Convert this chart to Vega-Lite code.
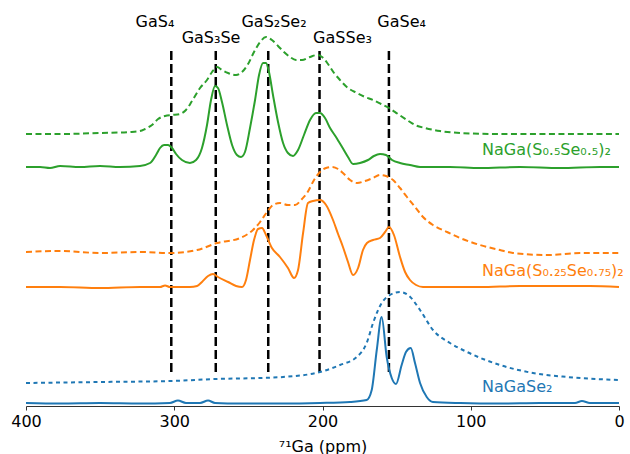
{
  "$schema": "https://vega.github.io/schema/vega-lite/v6.json",
  "width": 593,
  "height": 406,
  "autosize": {"type": "none"},
  "padding": {"top": 0, "left": 26, "right": 11, "bottom": 48},
  "background": "white",
  "config": {"view": {"stroke": null}, "font": "DejaVu Sans"},
  "datasets": {
    "spectra": [
      {"series": "NaGa(S0.5Se0.5)2", "spectrum": "MAS", "ppm": 400, "intensity": 239},
      {"series": "NaGa(S0.5Se0.5)2", "spectrum": "MAS", "ppm": 390.5, "intensity": 239},
      {"series": "NaGa(S0.5Se0.5)2", "spectrum": "MAS", "ppm": 383.8, "intensity": 238},
      {"series": "NaGa(S0.5Se0.5)2", "spectrum": "MAS", "ppm": 377, "intensity": 240},
      {"series": "NaGa(S0.5Se0.5)2", "spectrum": "MAS", "ppm": 363.6, "intensity": 239},
      {"series": "NaGa(S0.5Se0.5)2", "spectrum": "MAS", "ppm": 350.1, "intensity": 240},
      {"series": "NaGa(S0.5Se0.5)2", "spectrum": "MAS", "ppm": 336.6, "intensity": 239},
      {"series": "NaGa(S0.5Se0.5)2", "spectrum": "MAS", "ppm": 323.1, "intensity": 240},
      {"series": "NaGa(S0.5Se0.5)2", "spectrum": "MAS", "ppm": 316.3, "intensity": 243},
      {"series": "NaGa(S0.5Se0.5)2", "spectrum": "MAS", "ppm": 312.3, "intensity": 251},
      {"series": "NaGa(S0.5Se0.5)2", "spectrum": "MAS", "ppm": 309.6, "intensity": 258},
      {"series": "NaGa(S0.5Se0.5)2", "spectrum": "MAS", "ppm": 306.9, "intensity": 261},
      {"series": "NaGa(S0.5Se0.5)2", "spectrum": "MAS", "ppm": 304.2, "intensity": 261},
      {"series": "NaGa(S0.5Se0.5)2", "spectrum": "MAS", "ppm": 301.5, "intensity": 258},
      {"series": "NaGa(S0.5Se0.5)2", "spectrum": "MAS", "ppm": 298.8, "intensity": 252},
      {"series": "NaGa(S0.5Se0.5)2", "spectrum": "MAS", "ppm": 294.8, "intensity": 246},
      {"series": "NaGa(S0.5Se0.5)2", "spectrum": "MAS", "ppm": 289.4, "intensity": 243},
      {"series": "NaGa(S0.5Se0.5)2", "spectrum": "MAS", "ppm": 285.3, "intensity": 246},
      {"series": "NaGa(S0.5Se0.5)2", "spectrum": "MAS", "ppm": 281.3, "intensity": 258},
      {"series": "NaGa(S0.5Se0.5)2", "spectrum": "MAS", "ppm": 277.9, "intensity": 281},
      {"series": "NaGa(S0.5Se0.5)2", "spectrum": "MAS", "ppm": 275.2, "intensity": 306},
      {"series": "NaGa(S0.5Se0.5)2", "spectrum": "MAS", "ppm": 272.5, "intensity": 320},
      {"series": "NaGa(S0.5Se0.5)2", "spectrum": "MAS", "ppm": 270.5, "intensity": 318},
      {"series": "NaGa(S0.5Se0.5)2", "spectrum": "MAS", "ppm": 267.8, "intensity": 304},
      {"series": "NaGa(S0.5Se0.5)2", "spectrum": "MAS", "ppm": 264.4, "intensity": 281},
      {"series": "NaGa(S0.5Se0.5)2", "spectrum": "MAS", "ppm": 261.0, "intensity": 261},
      {"series": "NaGa(S0.5Se0.5)2", "spectrum": "MAS", "ppm": 257.7, "intensity": 251},
      {"series": "NaGa(S0.5Se0.5)2", "spectrum": "MAS", "ppm": 255.0, "intensity": 249},
      {"series": "NaGa(S0.5Se0.5)2", "spectrum": "MAS", "ppm": 252.3, "intensity": 254},
      {"series": "NaGa(S0.5Se0.5)2", "spectrum": "MAS", "ppm": 248.9, "intensity": 278},
      {"series": "NaGa(S0.5Se0.5)2", "spectrum": "MAS", "ppm": 245.5, "intensity": 306},
      {"series": "NaGa(S0.5Se0.5)2", "spectrum": "MAS", "ppm": 242.8, "intensity": 331},
      {"series": "NaGa(S0.5Se0.5)2", "spectrum": "MAS", "ppm": 240.1, "intensity": 343},
      {"series": "NaGa(S0.5Se0.5)2", "spectrum": "MAS", "ppm": 238.1, "intensity": 343},
      {"series": "NaGa(S0.5Se0.5)2", "spectrum": "MAS", "ppm": 236.1, "intensity": 334},
      {"series": "NaGa(S0.5Se0.5)2", "spectrum": "MAS", "ppm": 233.4, "intensity": 311},
      {"series": "NaGa(S0.5Se0.5)2", "spectrum": "MAS", "ppm": 230.0, "intensity": 284},
      {"series": "NaGa(S0.5Se0.5)2", "spectrum": "MAS", "ppm": 226.6, "intensity": 263},
      {"series": "NaGa(S0.5Se0.5)2", "spectrum": "MAS", "ppm": 223.3, "intensity": 253},
      {"series": "NaGa(S0.5Se0.5)2", "spectrum": "MAS", "ppm": 219.9, "intensity": 250},
      {"series": "NaGa(S0.5Se0.5)2", "spectrum": "MAS", "ppm": 216.5, "intensity": 256},
      {"series": "NaGa(S0.5Se0.5)2", "spectrum": "MAS", "ppm": 212.5, "intensity": 271},
      {"series": "NaGa(S0.5Se0.5)2", "spectrum": "MAS", "ppm": 208.4, "intensity": 286},
      {"series": "NaGa(S0.5Se0.5)2", "spectrum": "MAS", "ppm": 204.4, "intensity": 293},
      {"series": "NaGa(S0.5Se0.5)2", "spectrum": "MAS", "ppm": 201.7, "intensity": 293},
      {"series": "NaGa(S0.5Se0.5)2", "spectrum": "MAS", "ppm": 198.3, "intensity": 288},
      {"series": "NaGa(S0.5Se0.5)2", "spectrum": "MAS", "ppm": 194.9, "intensity": 278},
      {"series": "NaGa(S0.5Se0.5)2", "spectrum": "MAS", "ppm": 190.9, "intensity": 269},
      {"series": "NaGa(S0.5Se0.5)2", "spectrum": "MAS", "ppm": 186.8, "intensity": 259},
      {"series": "NaGa(S0.5Se0.5)2", "spectrum": "MAS", "ppm": 182.8, "intensity": 249},
      {"series": "NaGa(S0.5Se0.5)2", "spectrum": "MAS", "ppm": 179.4, "intensity": 242},
      {"series": "NaGa(S0.5Se0.5)2", "spectrum": "MAS", "ppm": 174.7, "intensity": 243},
      {"series": "NaGa(S0.5Se0.5)2", "spectrum": "MAS", "ppm": 169.3, "intensity": 246},
      {"series": "NaGa(S0.5Se0.5)2", "spectrum": "MAS", "ppm": 165.3, "intensity": 250},
      {"series": "NaGa(S0.5Se0.5)2", "spectrum": "MAS", "ppm": 161.2, "intensity": 252},
      {"series": "NaGa(S0.5Se0.5)2", "spectrum": "MAS", "ppm": 157.2, "intensity": 251},
      {"series": "NaGa(S0.5Se0.5)2", "spectrum": "MAS", "ppm": 153.1, "intensity": 246},
      {"series": "NaGa(S0.5Se0.5)2", "spectrum": "MAS", "ppm": 147.7, "intensity": 243},
      {"series": "NaGa(S0.5Se0.5)2", "spectrum": "MAS", "ppm": 141.0, "intensity": 241},
      {"series": "NaGa(S0.5Se0.5)2", "spectrum": "MAS", "ppm": 134.2, "intensity": 239},
      {"series": "NaGa(S0.5Se0.5)2", "spectrum": "MAS", "ppm": 114.0, "intensity": 239},
      {"series": "NaGa(S0.5Se0.5)2", "spectrum": "MAS", "ppm": 93.8, "intensity": 238},
      {"series": "NaGa(S0.5Se0.5)2", "spectrum": "MAS", "ppm": 66.8, "intensity": 239},
      {"series": "NaGa(S0.5Se0.5)2", "spectrum": "MAS", "ppm": 39.8, "intensity": 238},
      {"series": "NaGa(S0.5Se0.5)2", "spectrum": "MAS", "ppm": 12.8, "intensity": 239},
      {"series": "NaGa(S0.5Se0.5)2", "spectrum": "MAS", "ppm": 0, "intensity": 239},

      {"series": "NaGa(S0.5Se0.5)2", "spectrum": "static", "ppm": 400, "intensity": 272},
      {"series": "NaGa(S0.5Se0.5)2", "spectrum": "static", "ppm": 377, "intensity": 272},
      {"series": "NaGa(S0.5Se0.5)2", "spectrum": "static", "ppm": 350.1, "intensity": 273},
      {"series": "NaGa(S0.5Se0.5)2", "spectrum": "static", "ppm": 329.8, "intensity": 274},
      {"series": "NaGa(S0.5Se0.5)2", "spectrum": "static", "ppm": 323.1, "intensity": 275},
      {"series": "NaGa(S0.5Se0.5)2", "spectrum": "static", "ppm": 319.7, "intensity": 277},
      {"series": "NaGa(S0.5Se0.5)2", "spectrum": "static", "ppm": 315.0, "intensity": 281},
      {"series": "NaGa(S0.5Se0.5)2", "spectrum": "static", "ppm": 310.9, "intensity": 287},
      {"series": "NaGa(S0.5Se0.5)2", "spectrum": "static", "ppm": 306.2, "intensity": 290},
      {"series": "NaGa(S0.5Se0.5)2", "spectrum": "static", "ppm": 301.5, "intensity": 291},
      {"series": "NaGa(S0.5Se0.5)2", "spectrum": "static", "ppm": 296.1, "intensity": 292},
      {"series": "NaGa(S0.5Se0.5)2", "spectrum": "static", "ppm": 292.1, "intensity": 296},
      {"series": "NaGa(S0.5Se0.5)2", "spectrum": "static", "ppm": 288.0, "intensity": 305},
      {"series": "NaGa(S0.5Se0.5)2", "spectrum": "static", "ppm": 282.6, "intensity": 318},
      {"series": "NaGa(S0.5Se0.5)2", "spectrum": "static", "ppm": 277.9, "intensity": 326},
      {"series": "NaGa(S0.5Se0.5)2", "spectrum": "static", "ppm": 274.5, "intensity": 334},
      {"series": "NaGa(S0.5Se0.5)2", "spectrum": "static", "ppm": 271.1, "intensity": 339},
      {"series": "NaGa(S0.5Se0.5)2", "spectrum": "static", "ppm": 267.8, "intensity": 336},
      {"series": "NaGa(S0.5Se0.5)2", "spectrum": "static", "ppm": 263.7, "intensity": 333},
      {"series": "NaGa(S0.5Se0.5)2", "spectrum": "static", "ppm": 258.3, "intensity": 331},
      {"series": "NaGa(S0.5Se0.5)2", "spectrum": "static", "ppm": 254.3, "intensity": 334},
      {"series": "NaGa(S0.5Se0.5)2", "spectrum": "static", "ppm": 250.2, "intensity": 342},
      {"series": "NaGa(S0.5Se0.5)2", "spectrum": "static", "ppm": 246.2, "intensity": 354},
      {"series": "NaGa(S0.5Se0.5)2", "spectrum": "static", "ppm": 242.1, "intensity": 364},
      {"series": "NaGa(S0.5Se0.5)2", "spectrum": "static", "ppm": 238.1, "intensity": 369},
      {"series": "NaGa(S0.5Se0.5)2", "spectrum": "static", "ppm": 234.1, "intensity": 366},
      {"series": "NaGa(S0.5Se0.5)2", "spectrum": "static", "ppm": 230.0, "intensity": 360},
      {"series": "NaGa(S0.5Se0.5)2", "spectrum": "static", "ppm": 226.0, "intensity": 354},
      {"series": "NaGa(S0.5Se0.5)2", "spectrum": "static", "ppm": 221.9, "intensity": 349},
      {"series": "NaGa(S0.5Se0.5)2", "spectrum": "static", "ppm": 217.9, "intensity": 346},
      {"series": "NaGa(S0.5Se0.5)2", "spectrum": "static", "ppm": 213.8, "intensity": 346},
      {"series": "NaGa(S0.5Se0.5)2", "spectrum": "static", "ppm": 208.4, "intensity": 349},
      {"series": "NaGa(S0.5Se0.5)2", "spectrum": "static", "ppm": 203.7, "intensity": 351},
      {"series": "NaGa(S0.5Se0.5)2", "spectrum": "static", "ppm": 200.3, "intensity": 349},
      {"series": "NaGa(S0.5Se0.5)2", "spectrum": "static", "ppm": 196.3, "intensity": 342},
      {"series": "NaGa(S0.5Se0.5)2", "spectrum": "static", "ppm": 192.2, "intensity": 333},
      {"series": "NaGa(S0.5Se0.5)2", "spectrum": "static", "ppm": 188.2, "intensity": 326},
      {"series": "NaGa(S0.5Se0.5)2", "spectrum": "static", "ppm": 182.8, "intensity": 318},
      {"series": "NaGa(S0.5Se0.5)2", "spectrum": "static", "ppm": 176.7, "intensity": 313},
      {"series": "NaGa(S0.5Se0.5)2", "spectrum": "static", "ppm": 171.3, "intensity": 309},
      {"series": "NaGa(S0.5Se0.5)2", "spectrum": "static", "ppm": 165.9, "intensity": 306},
      {"series": "NaGa(S0.5Se0.5)2", "spectrum": "static", "ppm": 160.5, "intensity": 302},
      {"series": "NaGa(S0.5Se0.5)2", "spectrum": "static", "ppm": 155.1, "intensity": 298},
      {"series": "NaGa(S0.5Se0.5)2", "spectrum": "static", "ppm": 149.1, "intensity": 292},
      {"series": "NaGa(S0.5Se0.5)2", "spectrum": "static", "ppm": 143.0, "intensity": 286},
      {"series": "NaGa(S0.5Se0.5)2", "spectrum": "static", "ppm": 137.6, "intensity": 281},
      {"series": "NaGa(S0.5Se0.5)2", "spectrum": "static", "ppm": 130.9, "intensity": 278},
      {"series": "NaGa(S0.5Se0.5)2", "spectrum": "static", "ppm": 120.7, "intensity": 275},
      {"series": "NaGa(S0.5Se0.5)2", "spectrum": "static", "ppm": 107.2, "intensity": 273},
      {"series": "NaGa(S0.5Se0.5)2", "spectrum": "static", "ppm": 80.3, "intensity": 272},
      {"series": "NaGa(S0.5Se0.5)2", "spectrum": "static", "ppm": 53.3, "intensity": 272},
      {"series": "NaGa(S0.5Se0.5)2", "spectrum": "static", "ppm": 26.3, "intensity": 272},
      {"series": "NaGa(S0.5Se0.5)2", "spectrum": "static", "ppm": 0, "intensity": 272},

      {"series": "NaGa(S0.25Se0.75)2", "spectrum": "MAS", "ppm": 400, "intensity": 119},
      {"series": "NaGa(S0.25Se0.75)2", "spectrum": "MAS", "ppm": 377, "intensity": 119},
      {"series": "NaGa(S0.25Se0.75)2", "spectrum": "MAS", "ppm": 350.1, "intensity": 118},
      {"series": "NaGa(S0.25Se0.75)2", "spectrum": "MAS", "ppm": 323.1, "intensity": 119},
      {"series": "NaGa(S0.25Se0.75)2", "spectrum": "MAS", "ppm": 309.6, "intensity": 119},
      {"series": "NaGa(S0.25Se0.75)2", "spectrum": "MAS", "ppm": 306.2, "intensity": 120.5},
      {"series": "NaGa(S0.25Se0.75)2", "spectrum": "MAS", "ppm": 302.9, "intensity": 119},
      {"series": "NaGa(S0.25Se0.75)2", "spectrum": "MAS", "ppm": 289.4, "intensity": 119},
      {"series": "NaGa(S0.25Se0.75)2", "spectrum": "MAS", "ppm": 284.6, "intensity": 120},
      {"series": "NaGa(S0.25Se0.75)2", "spectrum": "MAS", "ppm": 281.3, "intensity": 124},
      {"series": "NaGa(S0.25Se0.75)2", "spectrum": "MAS", "ppm": 277.2, "intensity": 130},
      {"series": "NaGa(S0.25Se0.75)2", "spectrum": "MAS", "ppm": 273.8, "intensity": 132},
      {"series": "NaGa(S0.25Se0.75)2", "spectrum": "MAS", "ppm": 270.5, "intensity": 129},
      {"series": "NaGa(S0.25Se0.75)2", "spectrum": "MAS", "ppm": 263.7, "intensity": 124},
      {"series": "NaGa(S0.25Se0.75)2", "spectrum": "MAS", "ppm": 258.3, "intensity": 120},
      {"series": "NaGa(S0.25Se0.75)2", "spectrum": "MAS", "ppm": 254.3, "intensity": 119},
      {"series": "NaGa(S0.25Se0.75)2", "spectrum": "MAS", "ppm": 251.6, "intensity": 126},
      {"series": "NaGa(S0.25Se0.75)2", "spectrum": "MAS", "ppm": 248.9, "intensity": 146},
      {"series": "NaGa(S0.25Se0.75)2", "spectrum": "MAS", "ppm": 246.2, "intensity": 166},
      {"series": "NaGa(S0.25Se0.75)2", "spectrum": "MAS", "ppm": 243.5, "intensity": 177},
      {"series": "NaGa(S0.25Se0.75)2", "spectrum": "MAS", "ppm": 240.8, "intensity": 178},
      {"series": "NaGa(S0.25Se0.75)2", "spectrum": "MAS", "ppm": 238.1, "intensity": 171},
      {"series": "NaGa(S0.25Se0.75)2", "spectrum": "MAS", "ppm": 234.1, "intensity": 158},
      {"series": "NaGa(S0.25Se0.75)2", "spectrum": "MAS", "ppm": 228.7, "intensity": 149},
      {"series": "NaGa(S0.25Se0.75)2", "spectrum": "MAS", "ppm": 223.3, "intensity": 138},
      {"series": "NaGa(S0.25Se0.75)2", "spectrum": "MAS", "ppm": 219.2, "intensity": 128},
      {"series": "NaGa(S0.25Se0.75)2", "spectrum": "MAS", "ppm": 216.5, "intensity": 136},
      {"series": "NaGa(S0.25Se0.75)2", "spectrum": "MAS", "ppm": 213.1, "intensity": 173},
      {"series": "NaGa(S0.25Se0.75)2", "spectrum": "MAS", "ppm": 209.8, "intensity": 203},
      {"series": "NaGa(S0.25Se0.75)2", "spectrum": "MAS", "ppm": 206.4, "intensity": 205},
      {"series": "NaGa(S0.25Se0.75)2", "spectrum": "MAS", "ppm": 201.7, "intensity": 206},
      {"series": "NaGa(S0.25Se0.75)2", "spectrum": "MAS", "ppm": 197.6, "intensity": 201},
      {"series": "NaGa(S0.25Se0.75)2", "spectrum": "MAS", "ppm": 192.9, "intensity": 186},
      {"series": "NaGa(S0.25Se0.75)2", "spectrum": "MAS", "ppm": 189.5, "intensity": 172},
      {"series": "NaGa(S0.25Se0.75)2", "spectrum": "MAS", "ppm": 186.2, "intensity": 159},
      {"series": "NaGa(S0.25Se0.75)2", "spectrum": "MAS", "ppm": 182.8, "intensity": 144},
      {"series": "NaGa(S0.25Se0.75)2", "spectrum": "MAS", "ppm": 179.4, "intensity": 131},
      {"series": "NaGa(S0.25Se0.75)2", "spectrum": "MAS", "ppm": 176.0, "intensity": 138},
      {"series": "NaGa(S0.25Se0.75)2", "spectrum": "MAS", "ppm": 172.7, "intensity": 156},
      {"series": "NaGa(S0.25Se0.75)2", "spectrum": "MAS", "ppm": 170.0, "intensity": 163},
      {"series": "NaGa(S0.25Se0.75)2", "spectrum": "MAS", "ppm": 165.9, "intensity": 166},
      {"series": "NaGa(S0.25Se0.75)2", "spectrum": "MAS", "ppm": 161.2, "intensity": 168},
      {"series": "NaGa(S0.25Se0.75)2", "spectrum": "MAS", "ppm": 157.8, "intensity": 174},
      {"series": "NaGa(S0.25Se0.75)2", "spectrum": "MAS", "ppm": 155.1, "intensity": 179},
      {"series": "NaGa(S0.25Se0.75)2", "spectrum": "MAS", "ppm": 151.8, "intensity": 171},
      {"series": "NaGa(S0.25Se0.75)2", "spectrum": "MAS", "ppm": 147.7, "intensity": 149},
      {"series": "NaGa(S0.25Se0.75)2", "spectrum": "MAS", "ppm": 144.3, "intensity": 134},
      {"series": "NaGa(S0.25Se0.75)2", "spectrum": "MAS", "ppm": 141.0, "intensity": 126},
      {"series": "NaGa(S0.25Se0.75)2", "spectrum": "MAS", "ppm": 136.9, "intensity": 121},
      {"series": "NaGa(S0.25Se0.75)2", "spectrum": "MAS", "ppm": 132.2, "intensity": 119},
      {"series": "NaGa(S0.25Se0.75)2", "spectrum": "MAS", "ppm": 120.7, "intensity": 119},
      {"series": "NaGa(S0.25Se0.75)2", "spectrum": "MAS", "ppm": 93.8, "intensity": 119},
      {"series": "NaGa(S0.25Se0.75)2", "spectrum": "MAS", "ppm": 66.8, "intensity": 120},
      {"series": "NaGa(S0.25Se0.75)2", "spectrum": "MAS", "ppm": 39.8, "intensity": 120},
      {"series": "NaGa(S0.25Se0.75)2", "spectrum": "MAS", "ppm": 19.6, "intensity": 120},
      {"series": "NaGa(S0.25Se0.75)2", "spectrum": "MAS", "ppm": 0, "intensity": 119},

      {"series": "NaGa(S0.25Se0.75)2", "spectrum": "static", "ppm": 400, "intensity": 154},
      {"series": "NaGa(S0.25Se0.75)2", "spectrum": "static", "ppm": 377, "intensity": 155},
      {"series": "NaGa(S0.25Se0.75)2", "spectrum": "static", "ppm": 350.1, "intensity": 153},
      {"series": "NaGa(S0.25Se0.75)2", "spectrum": "static", "ppm": 323.1, "intensity": 154},
      {"series": "NaGa(S0.25Se0.75)2", "spectrum": "static", "ppm": 302.9, "intensity": 153},
      {"series": "NaGa(S0.25Se0.75)2", "spectrum": "static", "ppm": 284.6, "intensity": 156},
      {"series": "NaGa(S0.25Se0.75)2", "spectrum": "static", "ppm": 271.1, "intensity": 163},
      {"series": "NaGa(S0.25Se0.75)2", "spectrum": "static", "ppm": 255.6, "intensity": 168},
      {"series": "NaGa(S0.25Se0.75)2", "spectrum": "static", "ppm": 246.9, "intensity": 176},
      {"series": "NaGa(S0.25Se0.75)2", "spectrum": "static", "ppm": 242.1, "intensity": 184},
      {"series": "NaGa(S0.25Se0.75)2", "spectrum": "static", "ppm": 237.4, "intensity": 194},
      {"series": "NaGa(S0.25Se0.75)2", "spectrum": "static", "ppm": 233.4, "intensity": 201},
      {"series": "NaGa(S0.25Se0.75)2", "spectrum": "static", "ppm": 228.7, "intensity": 203},
      {"series": "NaGa(S0.25Se0.75)2", "spectrum": "static", "ppm": 223.3, "intensity": 201},
      {"series": "NaGa(S0.25Se0.75)2", "spectrum": "static", "ppm": 218.5, "intensity": 201},
      {"series": "NaGa(S0.25Se0.75)2", "spectrum": "static", "ppm": 213.8, "intensity": 207},
      {"series": "NaGa(S0.25Se0.75)2", "spectrum": "static", "ppm": 210.4, "intensity": 213},
      {"series": "NaGa(S0.25Se0.75)2", "spectrum": "static", "ppm": 205.7, "intensity": 226},
      {"series": "NaGa(S0.25Se0.75)2", "spectrum": "static", "ppm": 201.7, "intensity": 234},
      {"series": "NaGa(S0.25Se0.75)2", "spectrum": "static", "ppm": 197.6, "intensity": 238},
      {"series": "NaGa(S0.25Se0.75)2", "spectrum": "static", "ppm": 193.6, "intensity": 239},
      {"series": "NaGa(S0.25Se0.75)2", "spectrum": "static", "ppm": 189.5, "intensity": 237},
      {"series": "NaGa(S0.25Se0.75)2", "spectrum": "static", "ppm": 186.2, "intensity": 233},
      {"series": "NaGa(S0.25Se0.75)2", "spectrum": "static", "ppm": 181.4, "intensity": 226},
      {"series": "NaGa(S0.25Se0.75)2", "spectrum": "static", "ppm": 176.7, "intensity": 223},
      {"series": "NaGa(S0.25Se0.75)2", "spectrum": "static", "ppm": 171.3, "intensity": 225},
      {"series": "NaGa(S0.25Se0.75)2", "spectrum": "static", "ppm": 165.9, "intensity": 228},
      {"series": "NaGa(S0.25Se0.75)2", "spectrum": "static", "ppm": 161.2, "intensity": 231},
      {"series": "NaGa(S0.25Se0.75)2", "spectrum": "static", "ppm": 157.2, "intensity": 230},
      {"series": "NaGa(S0.25Se0.75)2", "spectrum": "static", "ppm": 152.4, "intensity": 226},
      {"series": "NaGa(S0.25Se0.75)2", "spectrum": "static", "ppm": 147.7, "intensity": 218},
      {"series": "NaGa(S0.25Se0.75)2", "spectrum": "static", "ppm": 143.0, "intensity": 209},
      {"series": "NaGa(S0.25Se0.75)2", "spectrum": "static", "ppm": 137.6, "intensity": 199},
      {"series": "NaGa(S0.25Se0.75)2", "spectrum": "static", "ppm": 132.2, "intensity": 189},
      {"series": "NaGa(S0.25Se0.75)2", "spectrum": "static", "ppm": 125.5, "intensity": 181},
      {"series": "NaGa(S0.25Se0.75)2", "spectrum": "static", "ppm": 116.0, "intensity": 174},
      {"series": "NaGa(S0.25Se0.75)2", "spectrum": "static", "ppm": 107.2, "intensity": 168},
      {"series": "NaGa(S0.25Se0.75)2", "spectrum": "static", "ppm": 93.8, "intensity": 161},
      {"series": "NaGa(S0.25Se0.75)2", "spectrum": "static", "ppm": 80.3, "intensity": 156},
      {"series": "NaGa(S0.25Se0.75)2", "spectrum": "static", "ppm": 71.5, "intensity": 153},
      {"series": "NaGa(S0.25Se0.75)2", "spectrum": "static", "ppm": 48.6, "intensity": 151},
      {"series": "NaGa(S0.25Se0.75)2", "spectrum": "static", "ppm": 26.3, "intensity": 153},
      {"series": "NaGa(S0.25Se0.75)2", "spectrum": "static", "ppm": 0, "intensity": 153},

      {"series": "NaGaSe2", "spectrum": "MAS", "ppm": 400, "intensity": 3},
      {"series": "NaGaSe2", "spectrum": "MAS", "ppm": 377, "intensity": 2.5},
      {"series": "NaGaSe2", "spectrum": "MAS", "ppm": 350.1, "intensity": 3},
      {"series": "NaGaSe2", "spectrum": "MAS", "ppm": 323.1, "intensity": 2.5},
      {"series": "NaGaSe2", "spectrum": "MAS", "ppm": 302.9, "intensity": 3},
      {"series": "NaGaSe2", "spectrum": "MAS", "ppm": 297.5, "intensity": 5.5},
      {"series": "NaGaSe2", "spectrum": "MAS", "ppm": 292.1, "intensity": 3},
      {"series": "NaGaSe2", "spectrum": "MAS", "ppm": 282.6, "intensity": 3},
      {"series": "NaGaSe2", "spectrum": "MAS", "ppm": 277.2, "intensity": 5.5},
      {"series": "NaGaSe2", "spectrum": "MAS", "ppm": 272.5, "intensity": 3},
      {"series": "NaGaSe2", "spectrum": "MAS", "ppm": 255.6, "intensity": 2.5},
      {"series": "NaGaSe2", "spectrum": "MAS", "ppm": 228.7, "intensity": 2.5},
      {"series": "NaGaSe2", "spectrum": "MAS", "ppm": 201.7, "intensity": 3},
      {"series": "NaGaSe2", "spectrum": "MAS", "ppm": 181.4, "intensity": 4},
      {"series": "NaGaSe2", "spectrum": "MAS", "ppm": 170.2, "intensity": 6},
      {"series": "NaGaSe2", "spectrum": "MAS", "ppm": 166.8, "intensity": 16},
      {"series": "NaGaSe2", "spectrum": "MAS", "ppm": 163.4, "intensity": 56},
      {"series": "NaGaSe2", "spectrum": "MAS", "ppm": 160.1, "intensity": 89},
      {"series": "NaGaSe2", "spectrum": "MAS", "ppm": 156.7, "intensity": 49},
      {"series": "NaGaSe2", "spectrum": "MAS", "ppm": 153.3, "intensity": 28},
      {"series": "NaGaSe2", "spectrum": "MAS", "ppm": 150.4, "intensity": 22},
      {"series": "NaGaSe2", "spectrum": "MAS", "ppm": 146.6, "intensity": 41},
      {"series": "NaGaSe2", "spectrum": "MAS", "ppm": 143.7, "intensity": 54},
      {"series": "NaGaSe2", "spectrum": "MAS", "ppm": 140.5, "intensity": 58},
      {"series": "NaGaSe2", "spectrum": "MAS", "ppm": 137.6, "intensity": 43},
      {"series": "NaGaSe2", "spectrum": "MAS", "ppm": 134.2, "intensity": 23},
      {"series": "NaGaSe2", "spectrum": "MAS", "ppm": 129.7, "intensity": 9},
      {"series": "NaGaSe2", "spectrum": "MAS", "ppm": 125.5, "intensity": 4},
      {"series": "NaGaSe2", "spectrum": "MAS", "ppm": 107.2, "intensity": 3},
      {"series": "NaGaSe2", "spectrum": "MAS", "ppm": 80.3, "intensity": 2.5},
      {"series": "NaGaSe2", "spectrum": "MAS", "ppm": 53.3, "intensity": 3},
      {"series": "NaGaSe2", "spectrum": "MAS", "ppm": 29.7, "intensity": 3},
      {"series": "NaGaSe2", "spectrum": "MAS", "ppm": 25.0, "intensity": 5},
      {"series": "NaGaSe2", "spectrum": "MAS", "ppm": 19.6, "intensity": 3},
      {"series": "NaGaSe2", "spectrum": "MAS", "ppm": 0, "intensity": 3},

      {"series": "NaGaSe2", "spectrum": "static", "ppm": 400, "intensity": 23},
      {"series": "NaGaSe2", "spectrum": "static", "ppm": 350.1, "intensity": 24},
      {"series": "NaGaSe2", "spectrum": "static", "ppm": 302.2, "intensity": 25},
      {"series": "NaGaSe2", "spectrum": "static", "ppm": 271.8, "intensity": 27},
      {"series": "NaGaSe2", "spectrum": "static", "ppm": 242.1, "intensity": 28},
      {"series": "NaGaSe2", "spectrum": "static", "ppm": 226.6, "intensity": 29},
      {"series": "NaGaSe2", "spectrum": "static", "ppm": 201.7, "intensity": 34},
      {"series": "NaGaSe2", "spectrum": "static", "ppm": 188.2, "intensity": 41},
      {"series": "NaGaSe2", "spectrum": "static", "ppm": 176.9, "intensity": 49},
      {"series": "NaGaSe2", "spectrum": "static", "ppm": 170.2, "intensity": 63},
      {"series": "NaGaSe2", "spectrum": "static", "ppm": 165.9, "intensity": 83},
      {"series": "NaGaSe2", "spectrum": "static", "ppm": 160.1, "intensity": 103},
      {"series": "NaGaSe2", "spectrum": "static", "ppm": 154.5, "intensity": 111},
      {"series": "NaGaSe2", "spectrum": "static", "ppm": 147.7, "intensity": 114},
      {"series": "NaGaSe2", "spectrum": "static", "ppm": 142.3, "intensity": 111},
      {"series": "NaGaSe2", "spectrum": "static", "ppm": 134.2, "intensity": 96},
      {"series": "NaGaSe2", "spectrum": "static", "ppm": 125.5, "intensity": 76},
      {"series": "NaGaSe2", "spectrum": "static", "ppm": 114.0, "intensity": 63},
      {"series": "NaGaSe2", "spectrum": "static", "ppm": 102.5, "intensity": 54},
      {"series": "NaGaSe2", "spectrum": "static", "ppm": 80.3, "intensity": 41},
      {"series": "NaGaSe2", "spectrum": "static", "ppm": 58.0, "intensity": 33},
      {"series": "NaGaSe2", "spectrum": "static", "ppm": 35.1, "intensity": 29},
      {"series": "NaGaSe2", "spectrum": "static", "ppm": 0, "intensity": 26}
    ],
    "sites": [
      {"site": "GaS₄", "ppm": 302, "labelPpm": 313, "labelY": 379.5},
      {"site": "GaS₃Se", "ppm": 272, "labelPpm": 275.2, "labelY": 363},
      {"site": "GaS₂Se₂", "ppm": 236.6, "labelPpm": 232.7, "labelY": 379.5},
      {"site": "GaSSe₃", "ppm": 202, "labelPpm": 186.5, "labelY": 363},
      {"site": "GaSe₄", "ppm": 155.2, "labelPpm": 146.6, "labelY": 379.5}
    ],
    "names": [
      {"series": "NaGa(S0.5Se0.5)2", "name": "NaGa(S₀.₅Se₀.₅)₂", "ppm": 92.4, "intensity": 251},
      {"series": "NaGa(S0.25Se0.75)2", "name": "NaGa(S₀.₂₅Se₀.₇₅)₂", "ppm": 92.4, "intensity": 130},
      {"series": "NaGaSe2", "name": "NaGaSe₂", "ppm": 92.4, "intensity": 14}
    ]
  },
  "encoding": {
    "x": {
      "field": "ppm",
      "type": "quantitative",
      "scale": {"domain": [0, 400], "reverse": true, "nice": false, "zero": false},
      "axis": {
        "title": "⁷¹Ga (ppm)",
        "values": [0, 100, 200, 300, 400],
        "format": "d",
        "grid": false,
        "tickSize": 4,
        "tickColor": "#333",
        "domainColor": "#333",
        "domainWidth": 1,
        "labelFont": "DejaVu Sans",
        "labelFontSize": 16,
        "labelColor": "black",
        "labelPadding": 3,
        "labelFlush": false,
        "labelOverlap": false,
        "titleFont": "DejaVu Sans",
        "titleFontSize": 16,
        "titleFontWeight": "normal",
        "titleColor": "black",
        "titlePadding": 9
      }
    }
  },
  "layer": [
    {
      "data": {"name": "sites"},
      "mark": {"type": "rule", "color": "black", "strokeWidth": 2.5, "strokeDash": [9, 4]},
      "encoding": {
        "y": {"datum": 34, "type": "quantitative", "scale": {"domain": [0, 406], "nice": false, "zero": false}, "axis": null},
        "y2": {"datum": 358}
      }
    },
    {
      "data": {"name": "spectra"},
      "transform": [{"filter": "datum.spectrum === 'MAS'"}],
      "mark": {"type": "line", "strokeWidth": 2, "interpolate": "monotone"},
      "encoding": {
        "y": {"field": "intensity", "type": "quantitative", "scale": {"domain": [0, 406], "nice": false, "zero": false}, "axis": null},
        "color": {"field": "series", "type": "nominal", "legend": null,
          "scale": {"domain": ["NaGaSe2", "NaGa(S0.25Se0.75)2", "NaGa(S0.5Se0.5)2"], "range": ["#1f77b4", "#ff7f0e", "#2ca02c"]}},
        "detail": {"field": "series"}
      }
    },
    {
      "data": {"name": "spectra"},
      "transform": [{"filter": "datum.spectrum === 'static' && datum.series !== 'NaGaSe2'"}],
      "mark": {"type": "line", "strokeWidth": 2, "interpolate": "monotone", "strokeDash": [6, 3.5]},
      "encoding": {
        "y": {"field": "intensity", "type": "quantitative", "axis": null},
        "color": {"field": "series", "type": "nominal", "legend": null},
        "detail": {"field": "series"}
      }
    },
    {
      "data": {"name": "spectra"},
      "transform": [{"filter": "datum.spectrum === 'static' && datum.series === 'NaGaSe2'"}],
      "mark": {"type": "line", "strokeWidth": 2, "interpolate": "monotone", "strokeDash": [4, 3.5]},
      "encoding": {
        "y": {"field": "intensity", "type": "quantitative", "axis": null},
        "color": {"field": "series", "type": "nominal", "legend": null}
      }
    },
    {
      "data": {"name": "sites"},
      "mark": {"type": "text", "font": "DejaVu Sans", "fontSize": 16, "color": "black", "align": "center", "baseline": "alphabetic"},
      "encoding": {
        "x": {"field": "labelPpm", "type": "quantitative"},
        "y": {"field": "labelY", "type": "quantitative", "axis": null},
        "text": {"field": "site"}
      }
    },
    {
      "data": {"name": "names"},
      "mark": {"type": "text", "font": "DejaVu Sans", "fontSize": 16, "align": "left", "baseline": "alphabetic"},
      "encoding": {
        "y": {"field": "intensity", "type": "quantitative", "axis": null},
        "text": {"field": "name"},
        "color": {"field": "series", "type": "nominal", "legend": null}
      }
    }
  ]
}
